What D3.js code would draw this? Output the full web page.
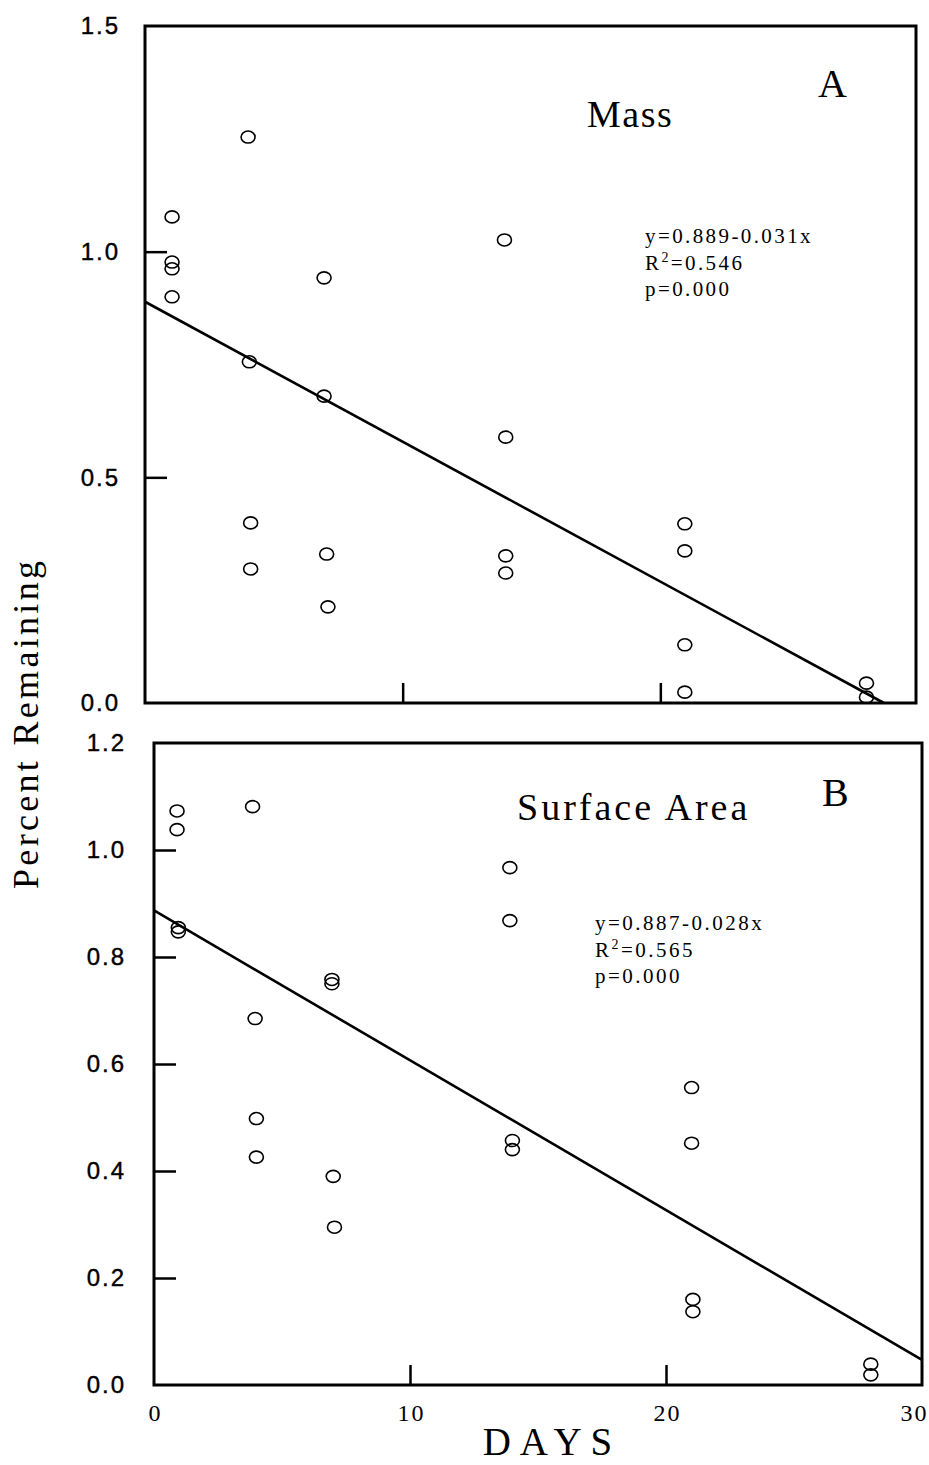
<!DOCTYPE html>
<html>
    <head>
        <meta charset="utf-8">
        <title>Percent Remaining vs Days</title>
        <script src="https://d3js.org/d3.v7.min.js"></script>
        <style>
            body {margin:0; background:#fff;}
            .pt {fill:none; stroke:#000; stroke-width:1.6px;}
            .frame {fill:none; stroke:#000; stroke-width:3px;}
            .fit {stroke:#000; stroke-width:2.6px;}
            .inticks line {stroke:#000; stroke-width:2.5px;}
            .serif {font-family:"Liberation Serif", "Times New Roman", serif; fill:#000;}
        </style>
    </head>
    <body>
        <svg id="fig" width="929" height="1465"></svg>

        <script>
            "use strict";

            // Panel A - mass
            const daysA = [1.05, 1.05, 1.05, 1.05, 4.0, 4.05, 4.1, 4.1, 6.95, 6.95, 7.05, 7.1,
                           13.95, 14.0, 14.0, 14.0, 20.95, 20.95, 20.95, 20.95, 28.0, 28.0];
            const massA = [1.077, 0.977, 0.962, 0.900, 1.254, 0.756, 0.399, 0.297, 0.942, 0.680, 0.330, 0.213,
                           1.026, 0.589, 0.326, 0.288, 0.397, 0.337, 0.129, 0.024, 0.044, 0.013];
            // Panel B - surface area
            const daysB = [0.9, 0.9, 0.95, 0.95, 3.85, 3.95, 4.0, 4.0, 6.95, 6.95, 7.0, 7.05,
                           13.9, 13.9, 14.0, 14.0, 21.0, 21.0, 21.05, 21.05, 28.0, 28.0];
            const areaB = [1.073, 1.038, 0.855, 0.847, 1.081, 0.685, 0.498, 0.426, 0.758, 0.750, 0.390, 0.295,
                           0.967, 0.868, 0.457, 0.440, 0.556, 0.452, 0.160, 0.137, 0.039, 0.019];

            const xTickLabels = [0, 10, 20, 30];
            const yLabelsA = [0.0, 0.5, 1.0, 1.5];
            const yLabelsB = [0.0, 0.2, 0.4, 0.6, 0.8, 1.0, 1.2];
            const fitA = {a: 0.889, b: -0.031, stats: ["y=0.889-0.031x", "0.546", "p=0.000"]};
            const fitB = {a: 0.887, b: -0.028, stats: ["y=0.887-0.028x", "0.565", "p=0.000"]};

            const svg = d3.select("#fig");

            function panel(o) {
                const x = d3.scaleLinear().domain([0, 30]).range(o.xr);
                const y = d3.scaleLinear().domain([0, o.ymax]).range(o.yr);
                const g = svg.append("g");

                // box
                g.append("rect").attr("class", "frame")
                    .attr("x", o.xr[0]).attr("y", o.yr[1])
                    .attr("width", o.frameRight - o.xr[0])
                    .attr("height", o.yr[0] - o.yr[1]);

                // y tick labels
                g.append("g")
                    .attr("transform", `translate(${o.ylabX},0)`)
                    .call(d3.axisLeft(y).tickValues(o.ylabels).tickSize(0).tickPadding(0)
                        .tickFormat(d3.format(".1f")))
                    .call(s => s.select(".domain").remove())
                    .call(s => s.selectAll("text")
                        .attr("font-family", "'Liberation Sans', Arial, sans-serif")
                        .attr("font-size", 24).attr("fill", "#000")
                        .attr("stroke", "#000").attr("stroke-width", 0.4)
                        .attr("letter-spacing", 2).attr("dx", 2));

                // inward ticks
                g.append("g").attr("class", "inticks")
                    .attr("transform", `translate(${o.xr[0]},0)`)
                    .call(d3.axisRight(y).tickValues(o.yticks).tickSize(22).tickFormat(""))
                    .call(s => s.select(".domain").remove());
                g.append("g").attr("class", "inticks")
                    .attr("transform", `translate(0,${o.yr[0]})`)
                    .call(d3.axisTop(x).tickValues([10, 20]).tickSize(20).tickFormat(""))
                    .call(s => s.select(".domain").remove());

                // fitted line
                const xEnd = Math.min(30, -o.fit.a / o.fit.b);
                g.append("line").attr("class", "fit")
                    .attr("x1", x(0)).attr("y1", y(o.fit.a))
                    .attr("x2", x(xEnd)).attr("y2", y(o.fit.a + o.fit.b * xEnd));

                // points
                g.selectAll("ellipse").data(o.xs).enter().append("ellipse")
                    .attr("class", "pt")
                    .attr("cx", d => x(d))
                    .attr("cy", (d, i) => y(o.ys[i]))
                    .attr("rx", 7).attr("ry", 6);

                // stats text
                const t = g.append("g").attr("class", "serif").style("font-size", "21px")
                    .style("letter-spacing", o.statSpacing);
                t.append("text").attr("x", o.statX).attr("y", o.statY).text(o.fit.stats[0]);
                const r = t.append("text").attr("x", o.statX).attr("y", o.statY + 27);
                r.append("tspan").text("R");
                r.append("tspan").attr("dy", -8).style("font-size", "14px").text("2");
                r.append("tspan").attr("dy", 8).text("=" + o.fit.stats[1]);
                t.append("text").attr("x", o.statX).attr("y", o.statY + 53).text(o.fit.stats[2]);

                // title + letter
                g.append("text").attr("class", "serif")
                    .attr("x", o.titleX).attr("y", o.titleY)
                    .style("font-size", "38px").style("letter-spacing", o.titleSpacing)
                    .text(o.title);
                g.append("text").attr("class", "serif")
                    .attr("x", o.letterX).attr("y", o.letterY)
                    .style("font-size", "40px")
                    .text(o.letter);
                return x;
            }

            panel({
                xr: [145, 918], frameRight: 916, yr: [703, 26], ymax: 1.5,
                ylabels: yLabelsA, yticks: [0.5, 1.0], ylabX: 118,
                xs: daysA, ys: massA, fit: fitA, statX: 645, statY: 243, statSpacing: "2.4px",
                title: "Mass", titleX: 587, titleY: 127, titleSpacing: "1.5px",
                letter: "A", letterX: 818, letterY: 97
            });

            const xB = panel({
                xr: [154, 922], frameRight: 922, yr: [1385, 743], ymax: 1.2,
                ylabels: yLabelsB, yticks: [0.2, 0.4, 0.6, 0.8, 1.0], ylabX: 124,
                xs: daysB, ys: areaB, fit: fitB, statX: 595, statY: 930, statSpacing: "2.5px",
                title: "Surface Area", titleX: 517, titleY: 820, titleSpacing: "3px",
                letter: "B", letterX: 822, letterY: 806
            });

            // x tick labels under bottom panel
            svg.append("g")
                .attr("transform", "translate(0,1400)")
                .call(d3.axisBottom(xB).tickValues(xTickLabels).tickSize(0).tickPadding(4))
                .call(s => s.select(".domain").remove())
                .call(s => s.selectAll("text")
                    .attr("font-family", "'Liberation Serif', 'Times New Roman', serif")
                    .attr("font-size", 24).attr("fill", "#000")
                    .attr("letter-spacing", 2)
                    .attr("text-anchor", d => d === 30 ? "end" : "middle")
                    .attr("dx", d => d === 30 ? 6 : 1));

            // axis titles
            svg.append("text").attr("class", "serif")
                .attr("x", 552).attr("y", 1455)
                .attr("text-anchor", "middle")
                .style("font-size", "39px").style("letter-spacing", "9px")
                .text("DAYS");
            svg.append("text").attr("class", "serif")
                .attr("transform", "translate(38,725) rotate(-90)")
                .attr("text-anchor", "middle")
                .attr("textLength", 328).attr("lengthAdjust", "spacing")
                .style("font-size", "36px")
                .text("Percent Remaining");
        </script>
    </body>
</html>
